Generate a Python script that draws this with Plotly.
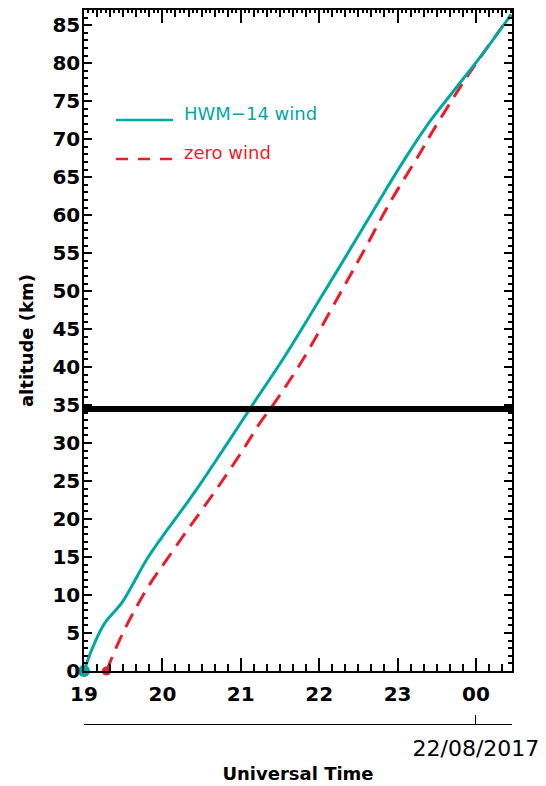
import plotly.graph_objects as go

# ---- data ----
hwm_time = [19.0, 19.115, 19.264, 19.477, 19.605, 19.796, 19.987, 20.221, 20.476, 20.773,
            21.028, 21.135, 21.56, 22.006, 22.389, 22.772, 23.112, 23.41, 23.75, 24.09, 24.45]
hwm_alt = [0.0, 3.2, 6.3, 8.9, 11.1, 14.6, 17.5, 20.8, 24.5, 29.1,
           33.1, 34.8, 41.4, 48.9, 55.4, 62.0, 67.7, 72.3, 76.8, 81.3, 86.4]

zero_time = [19.286, 19.455, 19.625, 19.838, 20.051, 20.35, 20.689, 21.028, 21.241, 21.411,
             21.793, 22.262, 22.559, 22.9, 23.283, 23.452, 23.878, 24.217, 24.45]
zero_alt = [0.0, 4.1, 7.6, 11.4, 14.6, 19.0, 23.9, 29.1, 32.6, 35.0,
            41.0, 49.6, 55.1, 61.6, 68.1, 71.1, 78.1, 83.1, 86.4]

hour_ticks = [19, 20, 21, 22, 23, 24]
hour_labels = ["19", "20", "21", "22", "23", "00"]
alt_ticks = list(range(0, 90, 5))
date_tick = [24]
date_label = ["22/08/2017"]
threshold_alt = 34.5

x_range = [19.0, 24.46]
y_range = [0, 87]

CYAN = "#00A8A4"
RED = "#EE1C2A"
TICKFONT = dict(family="DejaVu Sans", size=20, color="black", weight="bold")

fig = go.Figure()

fig.add_trace(go.Scatter(x=zero_time, y=zero_alt, mode="lines",
                         line=dict(color=RED, width=3, dash="15px,9px", shape="spline",
                                   smoothing=1.0),
                         cliponaxis=False, showlegend=False))
fig.add_trace(go.Scatter(x=hwm_time, y=hwm_alt, mode="lines",
                         line=dict(color=CYAN, width=3, shape="spline", smoothing=1.0),
                         cliponaxis=False, showlegend=False))
fig.add_trace(go.Scatter(x=[zero_time[0]], y=[zero_alt[0]], mode="markers",
                         marker=dict(color=RED, size=9), cliponaxis=False, showlegend=False))
fig.add_trace(go.Scatter(x=[hwm_time[0]], y=[hwm_alt[0]], mode="markers",
                         marker=dict(color=CYAN, size=12), cliponaxis=False, showlegend=False))
# invisible traces so the extra axes are drawn
fig.add_trace(go.Scatter(x=x_range, y=y_range, xaxis="x2", yaxis="y", mode="markers",
                         marker=dict(opacity=0), hoverinfo="skip", showlegend=False))
fig.add_trace(go.Scatter(x=x_range, y=y_range, xaxis="x3", yaxis="y", mode="markers",
                         marker=dict(opacity=0), hoverinfo="skip", showlegend=False))

# threshold line
fig.add_shape(type="line", xref="x domain", yref="y", x0=0, x1=1,
              y0=threshold_alt, y1=threshold_alt, line=dict(color="black", width=6))

# manual legend
fig.add_shape(type="line", xref="x domain", yref="y domain", x0=0.0748, x1=0.208,
              y0=0.8336, y1=0.8336, line=dict(color=CYAN, width=2.5))
fig.add_shape(type="line", xref="x domain", yref="y domain", x0=0.0748, x1=0.208,
              y0=0.7745, y1=0.7745, line=dict(color=RED, width=2.5, dash="12px,10px"))
fig.add_annotation(xref="x domain", yref="y domain", x=0.229, y=0.844, text="HWM\u221214 wind",
                   showarrow=False, xanchor="left", yanchor="middle",
                   font=dict(family="DejaVu Sans", size=18, color=CYAN))
fig.add_annotation(xref="x domain", yref="y domain", x=0.229, y=0.785, text="zero wind",
                   showarrow=False, xanchor="left", yanchor="middle",
                   font=dict(family="DejaVu Sans", size=18, color=RED))

# the page body adds an 8px offset, so the figure is 8px smaller and margins shifted
fig.update_layout(
    width=538, height=778,
    margin=dict(l=76, r=34, t=2, b=62, autoexpand=False),
    paper_bgcolor="white", plot_bgcolor="white",
    showlegend=False,
    xaxis=dict(range=x_range, anchor="y", tickmode="array", tickvals=hour_ticks,
               ticktext=hour_labels, ticks="inside", ticklen=13, tickwidth=1.5,
               tickcolor="black", showline=True, linecolor="black", linewidth=1.5,
               mirror="ticks", showgrid=False, zeroline=False, tickfont=TICKFONT,
               ticklabelstandoff=4, automargin=False,
               minor=dict(dtick=1 / 6, tick0=19, ticks="inside", ticklen=7,
                          tickwidth=1.5, tickcolor="black", showgrid=False)),
    xaxis2=dict(range=x_range, overlaying="x", anchor="free", position=0, side="bottom",
                tickmode="array", tickvals=date_tick, ticktext=date_label,
                ticks="inside", ticklen=9, tickwidth=1, tickcolor="black",
                showline=True, linecolor="black", linewidth=1, showgrid=False,
                zeroline=False, ticklabelstandoff=5, automargin=False,
                tickfont=dict(family="DejaVu Sans", size=22, color="black"),
                title=dict(text="Universal Time", standoff=6,
                           font=dict(family="DejaVu Sans", size=18, color="black",
                                     weight="bold"))),
    xaxis3=dict(range=x_range, overlaying="x", anchor="y", side="top",
                tickmode="linear", tick0=19, dtick=1 / 18, ticks="inside", ticklen=3,
                tickwidth=1.5, tickcolor="black", showticklabels=False, automargin=False,
                showline=False, showgrid=False, zeroline=False),
    yaxis=dict(range=y_range, domain=[53 / 714, 1], tickmode="array", tickvals=alt_ticks,
               ticks="inside", ticklen=8, tickwidth=1.5, tickcolor="black",
               showline=True, linecolor="black", linewidth=1.5, mirror="ticks",
               showgrid=False, zeroline=False, tickfont=TICKFONT, ticklabelstandoff=-2,
               automargin=False,
               minor=dict(dtick=1, tick0=0, ticks="inside", ticklen=4, tickwidth=1.5,
                          tickcolor="black", showgrid=False),
               title=dict(text="altitude (km)", standoff=14,
                          font=dict(family="DejaVu Sans", size=18, color="black",
                                    weight="bold"))),
)

fig.write_html("out.html")
